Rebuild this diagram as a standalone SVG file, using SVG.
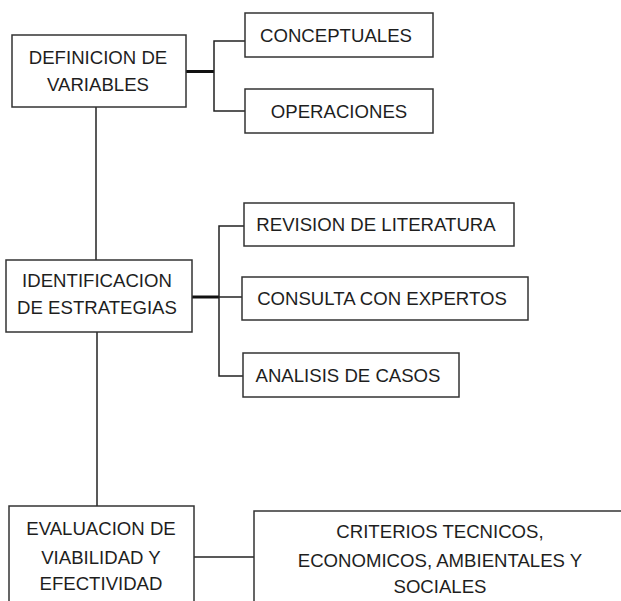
<svg xmlns="http://www.w3.org/2000/svg" width="621" height="601" viewBox="0 0 621 601">
<style>
.box{fill:#fff;stroke:#333;stroke-width:1.5}
.t{font-family:"Liberation Sans",Arial,sans-serif;font-size:18.6px;fill:#1e1e1e;text-anchor:middle;dominant-baseline:central}
.c{fill:none;stroke:#222;stroke-width:1.5}
.ct{fill:none;stroke:#111;stroke-width:3}
</style>
<rect width="621" height="601" fill="#fff"/>
<g id="connectors">
<line class="ct" x1="186" y1="71.5" x2="214" y2="71.5"/>
<path class="c" d="M245 41 H214 V111 H245"/>
<line class="c" x1="96" y1="107" x2="96" y2="260"/>
<line class="ct" x1="192" y1="297" x2="219" y2="297"/>
<path class="c" d="M244 226 H219 V376 H243"/>
<line class="c" x1="219" y1="297" x2="242" y2="297"/>
<line class="c" x1="97" y1="332" x2="97" y2="506"/>
<line class="c" x1="194" y1="557" x2="254" y2="557"/>
</g>
<g id="definicion">
<rect class="box" x="12" y="35" width="174" height="72"/>
<text class="t" x="98" y="57">DEFINICION DE</text>
<text class="t" x="98" y="84">VARIABLES</text>
</g>
<g id="conceptuales">
<rect class="box" x="245" y="13" width="188" height="44"/>
<text class="t" x="336" y="35">CONCEPTUALES</text>
</g>
<g id="operaciones">
<rect class="box" x="245" y="89" width="188" height="44"/>
<text class="t" x="339" y="111">OPERACIONES</text>
</g>
<g id="identificacion">
<rect class="box" x="6" y="260" width="186" height="72"/>
<text class="t" x="97" y="280">IDENTIFICACION</text>
<text class="t" x="97" y="307">DE ESTRATEGIAS</text>
</g>
<g id="revision">
<rect class="box" x="244" y="203" width="270" height="43"/>
<text class="t" x="376" y="224">REVISION DE LITERATURA</text>
</g>
<g id="consulta">
<rect class="box" x="242" y="277" width="286" height="43"/>
<text class="t" x="382" y="298">CONSULTA CON EXPERTOS</text>
</g>
<g id="analisis">
<rect class="box" x="243" y="353" width="216" height="44"/>
<text class="t" x="348" y="375">ANALISIS DE CASOS</text>
</g>
<g id="evaluacion">
<rect class="box" x="9" y="506" width="185" height="110"/>
<text class="t" x="101" y="528">EVALUACION DE</text>
<text class="t" x="101" y="557">VIABILIDAD Y</text>
<text class="t" x="101" y="583">EFECTIVIDAD</text>
</g>
<g id="criterios">
<rect class="box" x="254" y="511" width="400" height="110"/>
<text class="t" x="440" y="531">CRITERIOS TECNICOS,</text>
<text class="t" x="440" y="560">ECONOMICOS, AMBIENTALES Y</text>
<text class="t" x="440" y="586">SOCIALES</text>
</g>
</svg>
